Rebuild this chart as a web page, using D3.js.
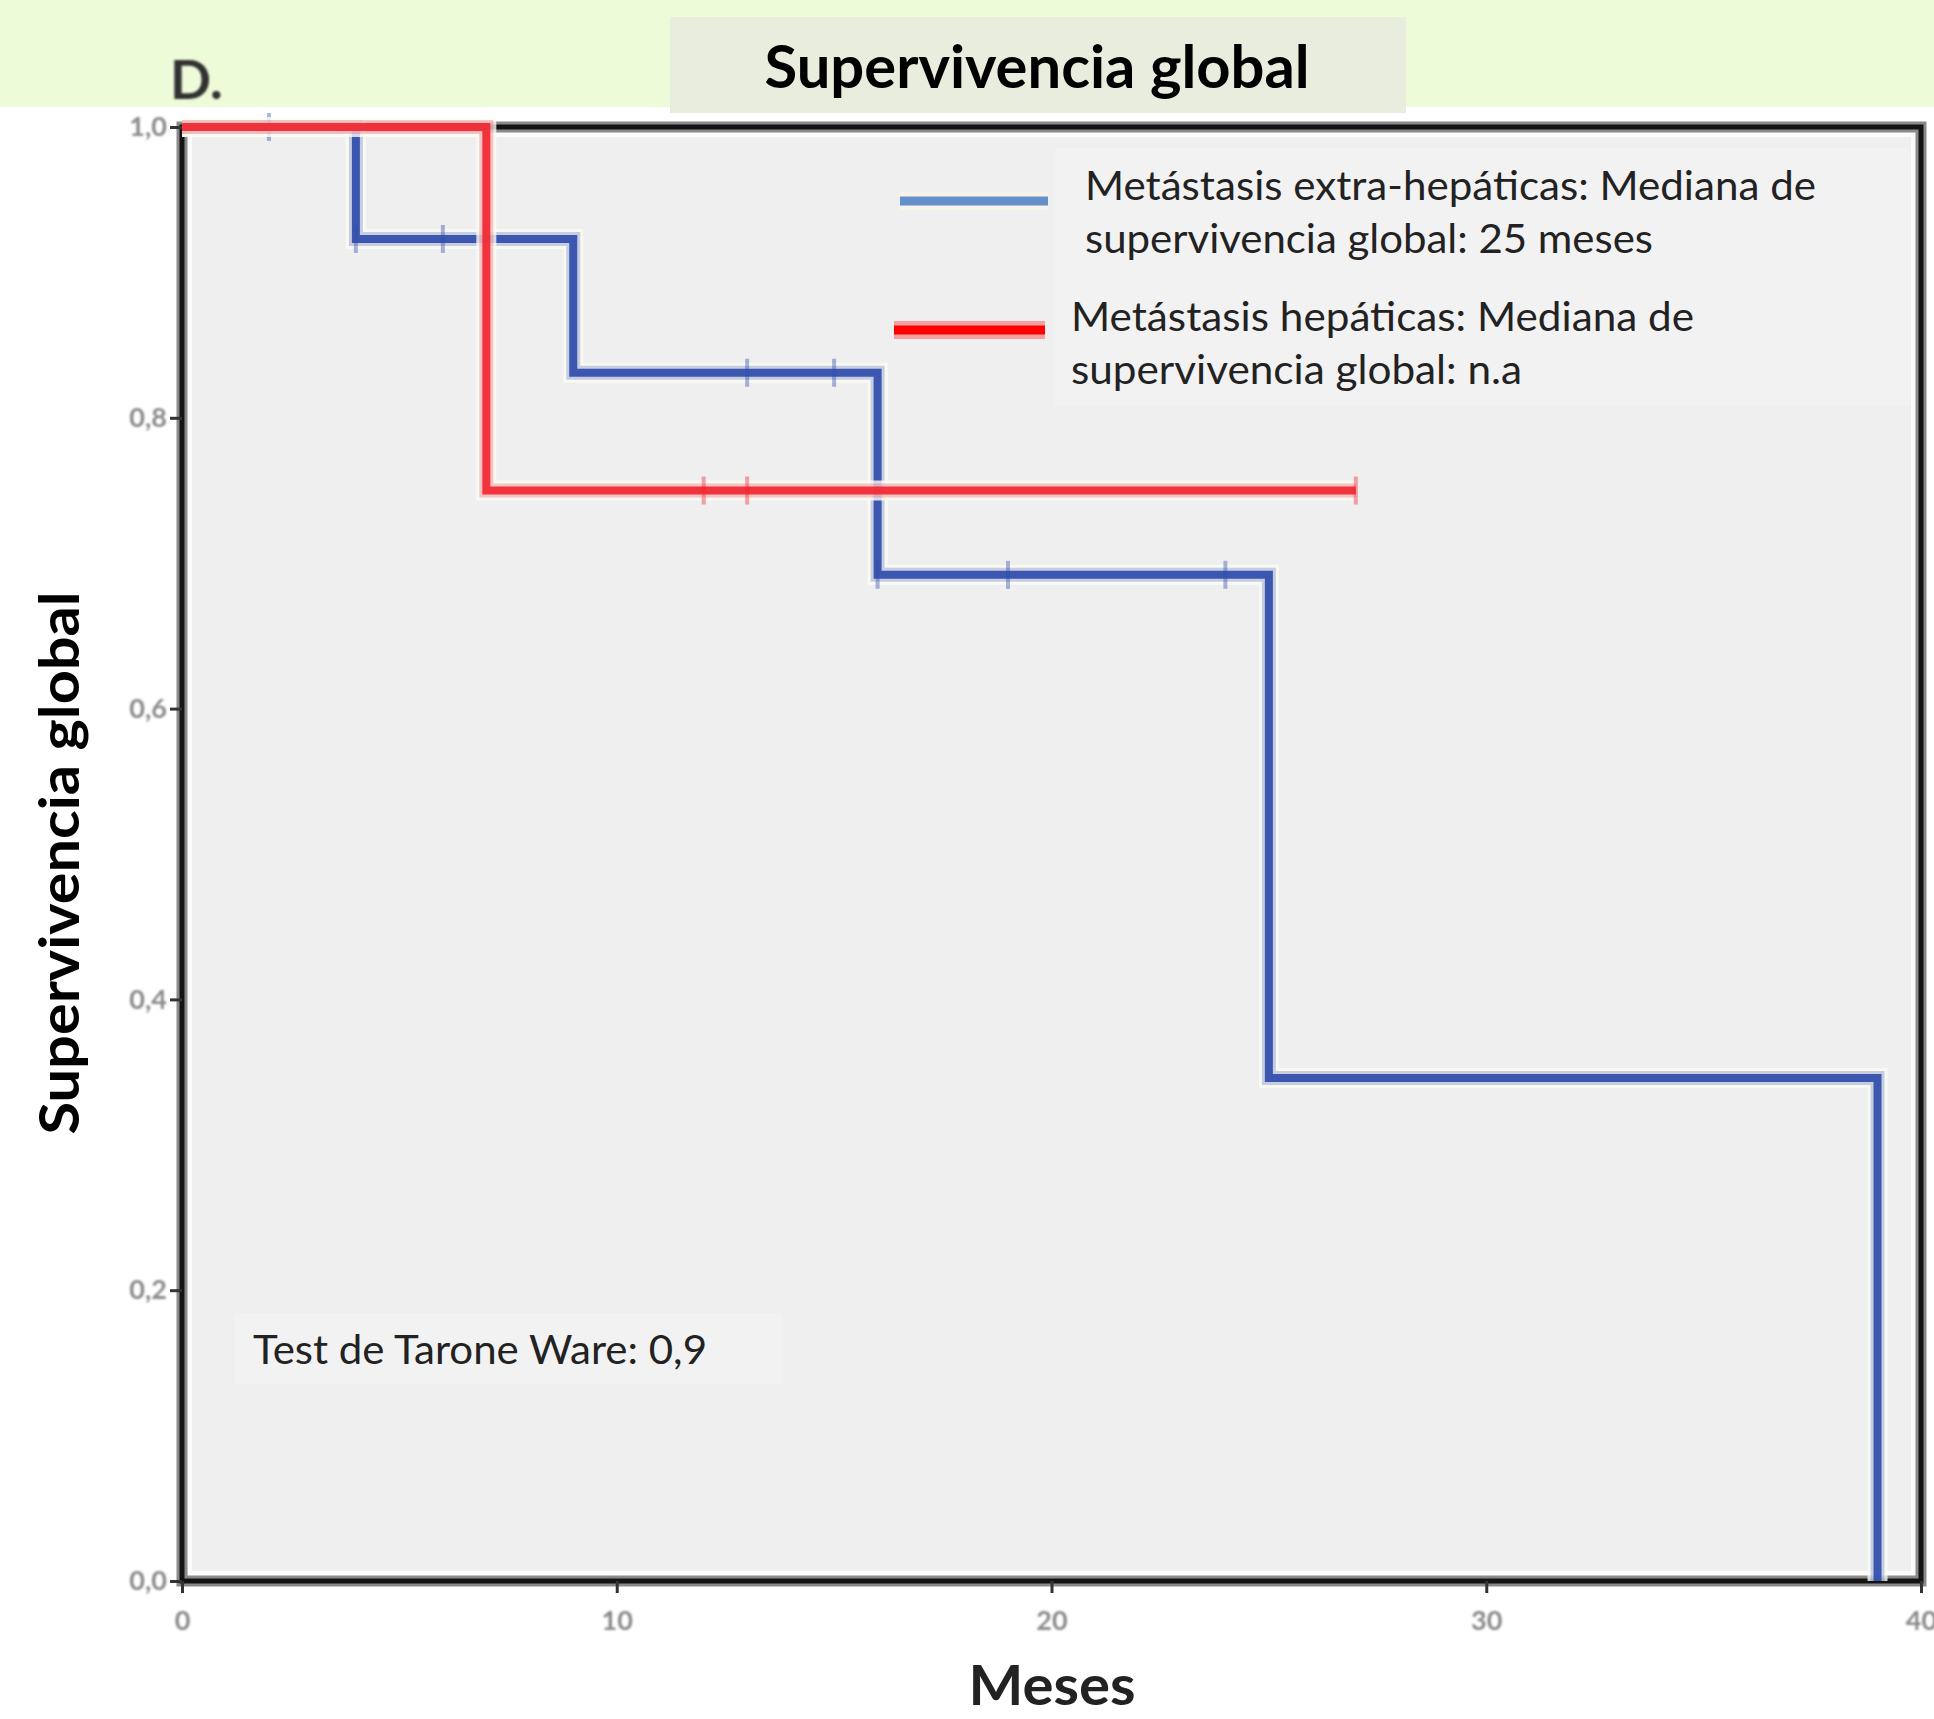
<!DOCTYPE html>
<html>
<head>
<meta charset="utf-8">
<script src="https://cdn.jsdelivr.net/npm/d3@7"></script>
<style>
  html, body { margin: 0; padding: 0; background: #fff; }
  svg { display: block; }
</style>
</head>
<body>
<svg id="chart"></svg>
<script>
// Kaplan-Meier steps: time (meses) and survival after the step
const extraTimes = [0, 4, 9, 16, 25, 39];
const extraSurv = [1, 0.923, 0.831, 0.692, 0.346, 0];
const extraCensored = [2, 4, 6, 13, 15, 16, 19, 24];

const hepTimes = [0, 7, 27];
const hepSurv = [1, 0.75, 0.75];
const hepCensored = [12, 13, 27];

const xTicks = [0, 10, 20, 30, 40];
const yTicks = [0, 0.2, 0.4, 0.6, 0.8, 1.0];

const legendLines = [
  ['Metástasis extra-hepáticas: Mediana de', 'supervivencia global: 25 meses'],
  ['Metástasis hepáticas: Mediana de', 'supervivencia global: n.a']
];

const width = 1934, height = 1719;
const margin = { top: 127, right: 13, bottom: 138, left: 182 };
const FONT = 'Lato, "Open Sans", sans-serif';

const svg = d3.select('#chart')
  .attr('width', width)
  .attr('height', height)
  .attr('viewBox', `0 0 ${width} ${height}`);

const x = d3.scaleLinear().domain([0, 40]).range([margin.left, width - margin.right]);
const y = d3.scaleLinear().domain([0, 1]).range([height - margin.bottom, margin.top]);

const comma = d3.formatLocale({ decimal: ',', thousands: '.', grouping: [3], currency: ['', ''] });

// soft blur for the low-res tick labels
const defs = svg.append('defs');
defs.append('filter').attr('id', 'soft')
  .append('feGaussianBlur').attr('stdDeviation', 1.1);

// top green band + title box
svg.append('rect').attr('x', 0).attr('y', 0).attr('width', width).attr('height', 107).attr('fill', '#eefbd9');
svg.append('rect').attr('x', 670).attr('y', 17).attr('width', 736).attr('height', 96).attr('fill', '#e9eddd');

function fit(sel, w) {
  return sel.attr('textLength', w).attr('lengthAdjust', 'spacingAndGlyphs');
}

fit(svg.append('text')
  .attr('x', 1037).attr('y', 88)
  .attr('text-anchor', 'middle')
  .attr('font-family', FONT).attr('font-weight', 700).attr('font-size', 60)
  .attr('fill', '#000')
  .text('Supervivencia global'), 545);

svg.append('text')
  .attr('x', 170).attr('y', 99)
  .attr('font-family', FONT).attr('font-weight', 700).attr('font-size', 54)
  .attr('fill', '#333').attr('filter', 'url(#soft)')
  .text('D.');

// plot area: white gap then gray fill
const px0 = x(0), px1 = x(40), py0 = y(1), py1 = y(0);
svg.append('rect').attr('x', px0).attr('y', py0).attr('width', px1 - px0).attr('height', py1 - py0).attr('fill', '#fbfbfb');
svg.append('rect').attr('x', px0 + 10).attr('y', py0 + 10).attr('width', px1 - px0 - 20).attr('height', py1 - py0 - 20).attr('fill', '#efefef');

// faint boxes behind legend and test text
svg.append('rect').attr('x', 1055).attr('y', 148).attr('width', 855).attr('height', 258).attr('fill', '#f2f2f2');
svg.append('rect').attr('x', 234).attr('y', 1313).attr('width', 549).attr('height', 71).attr('fill', '#f2f2f2');

// frame
svg.append('rect').attr('x', px0).attr('y', py0).attr('width', px1 - px0).attr('height', py1 - py0)
  .attr('fill', 'none').attr('stroke', '#8a8a8a').attr('stroke-width', 11);
svg.append('rect').attr('x', px0).attr('y', py0).attr('width', px1 - px0).attr('height', py1 - py0)
  .attr('fill', 'none').attr('stroke', '#141414').attr('stroke-width', 5);

// axes
const xAxis = svg.append('g')
  .attr('transform', `translate(0, ${py1})`)
  .call(d3.axisBottom(x).tickValues(xTicks).tickSize(12).tickPadding(18).tickFormat(d3.format('d')));
const yAxis = svg.append('g')
  .attr('transform', `translate(${px0}, 0)`)
  .call(d3.axisLeft(y).tickValues(yTicks).tickSize(12).tickPadding(3).tickFormat(comma.format('.1f')));

[xAxis, yAxis].forEach(ax => {
  ax.select('.domain').remove();
  ax.selectAll('line').attr('stroke', '#333').attr('stroke-width', 3);
  ax.selectAll('text')
    .attr('font-family', FONT).attr('font-size', 27).attr('font-weight', 700).attr('fill', '#8a8a8a')
    .attr('filter', 'url(#soft)');
});

// axis titles
fit(svg.append('text')
  .attr('transform', 'rotate(-90)')
  .attr('x', -863).attr('y', 79)
  .attr('text-anchor', 'middle')
  .attr('font-family', FONT).attr('font-weight', 700).attr('font-size', 56)
  .attr('fill', '#000')
  .text('Supervivencia global'), 543);

fit(svg.append('text')
  .attr('x', 1052).attr('y', 1705)
  .attr('text-anchor', 'middle')
  .attr('font-family', FONT).attr('font-weight', 700).attr('font-size', 55)
  .attr('fill', '#222')
  .text('Meses'), 167);

// survival curves
const step = d3.line().x(d => x(d[0])).y(d => y(d[1])).curve(d3.curveStepAfter);
const survAt = (times, surv, t) => surv[d3.bisectRight(times, t) - 1];

function drawCurve(times, surv, censored, color) {
  const pts = times.map((t, i) => [t, surv[i]]);
  svg.append('path').datum(pts)
    .attr('fill', 'none').attr('stroke', '#fbfbf4').attr('stroke-opacity', 0.8)
    .attr('stroke-width', 20).attr('d', step);
  svg.append('path').datum(pts)
    .attr('fill', 'none').attr('stroke', color).attr('stroke-opacity', 0.25)
    .attr('stroke-width', 14).attr('d', step);
  svg.append('path').datum(pts)
    .attr('fill', 'none').attr('stroke', color).attr('stroke-opacity', 0.9)
    .attr('stroke-width', 8).attr('d', step);
  svg.append('g').selectAll('line')
    .data(censored)
    .join('line')
    .attr('x1', d => x(d)).attr('x2', d => x(d))
    .attr('y1', d => y(survAt(times, surv, d)) - 14)
    .attr('y2', d => y(survAt(times, surv, d)) + 14)
    .attr('stroke', color).attr('stroke-opacity', 0.4).attr('stroke-width', 4);
}

drawCurve(extraTimes, extraSurv, extraCensored, '#2d4aab');
drawCurve(hepTimes, hepSurv, hepCensored, '#f0242e');

// legend
const legend = [
  { color: '#6690c9', halo: '#f8f3ea', x1: 900, x2: 1048, ly: 201, tx: 1085, base: 200, widths: [731, 568] },
  { color: '#ff0000', halo: '#f4a0a0', x1: 894, x2: 1045, ly: 330, tx: 1071, base: 331, widths: [623, 451] }
];
legend.forEach((d, i) => {
  svg.append('line').attr('x1', d.x1).attr('x2', d.x2).attr('y1', d.ly).attr('y2', d.ly)
    .attr('stroke', d.halo).attr('stroke-width', 18);
  svg.append('line').attr('x1', d.x1).attr('x2', d.x2).attr('y1', d.ly).attr('y2', d.ly)
    .attr('stroke', d.color).attr('stroke-width', 9);
  legendLines[i].forEach((t, j) => {
    fit(svg.append('text')
      .attr('x', d.tx).attr('y', d.base + j * 53)
      .attr('font-family', FONT).attr('font-size', 41)
      .attr('fill', '#222')
      .text(t), d.widths[j]);
  });
});

fit(svg.append('text')
  .attr('x', 253).attr('y', 1364)
  .attr('font-family', FONT).attr('font-size', 41)
  .attr('fill', '#222')
  .text('Test de Tarone Ware: 0,9'), 454);
</script>
</body>
</html>
